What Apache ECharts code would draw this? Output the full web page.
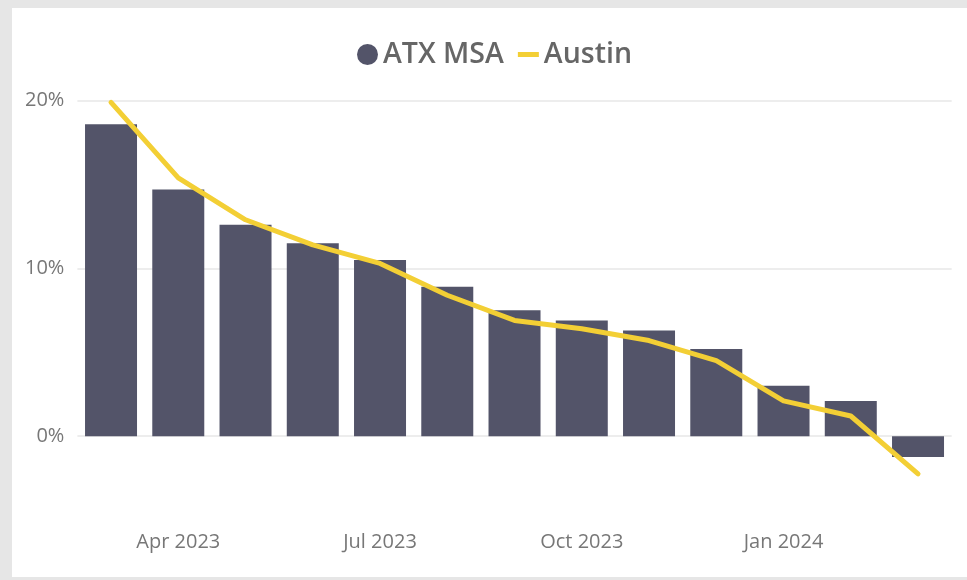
<!DOCTYPE html>
<html>
<head>
<meta charset="utf-8">
<script src="https://cdn.jsdelivr.net/npm/echarts@6/dist/echarts.min.js"></script>
<style>
  html, body { margin: 0; padding: 0; background: #e6e6e6; }
  #panel { position: absolute; left: 12px; top: 8px; width: 955px; height: 569px; background: #ffffff; }
  #chart { position: absolute; left: 0; top: 0; width: 967px; height: 580px; }
</style>
</head>
<body>
<div id="panel"></div>
<div id="chart"></div>
<script>
// Monthly year-over-year change, in percent
const months = ['Mar 2023', 'Apr 2023', 'May 2023', 'Jun 2023', 'Jul 2023', 'Aug 2023',
  'Sep 2023', 'Oct 2023', 'Nov 2023', 'Dec 2023', 'Jan 2024', 'Feb 2024', 'Mar 2024'];
const atxMsa = [18.6, 14.7, 12.6, 11.5, 10.5, 8.9, 7.5, 6.9, 6.3, 5.2, 3.0, 2.1, -1.25];
const austin = [19.9, 15.4, 12.9, 11.4, 10.3, 8.4, 6.9, 6.4, 5.7, 4.5, 2.1, 1.2, -2.25];
// Only whole 10% steps carry a label and a gridline
const yTickLabels = [0, 10, 20];

const FONT = '"Open Sans", "Noto Sans", sans-serif';
const chart = echarts.init(document.getElementById('chart'), null, { renderer: 'canvas' });

chart.setOption({
  backgroundColor: 'transparent',
  animation: false,
  legend: {
    top: 35,
    left: 352,
    itemWidth: 21,
    itemHeight: 22,
    itemGap: 14,
    textStyle: { fontFamily: FONT, fontSize: 28.5, fontWeight: 600, color: '#666666' },
    data: [
      { name: 'ATX MSA', icon: 'circle' },
      { name: 'Austin', icon: 'path://M0,0H21V5H0Z' }
    ]
  },
  grid: { left: 77.4, width: 874.25, top: 100.7, height: 419.3, containLabel: false },
  xAxis: {
    type: 'category',
    data: months,
    axisLine: { show: false },
    axisTick: { show: false },
    axisLabel: {
      interval: (idx) => idx % 3 === 1,
      margin: 12,
      fontFamily: FONT,
      fontSize: 20,
      color: '#777777'
    }
  },
  yAxis: {
    type: 'value',
    min: -5,
    max: 20,
    interval: 5,
    axisLine: { show: false },
    axisTick: { show: false },
    axisLabel: {
      margin: 13,
      fontFamily: FONT,
      fontSize: 20,
      color: '#777777',
      formatter: (v) => (yTickLabels.indexOf(v) >= 0 ? v + '%' : '')
    },
    splitLine: {
      lineStyle: {
        color: ['transparent', '#ededed'],
        width: 2
      }
    }
  },
  series: [
    {
      name: 'ATX MSA',
      type: 'bar',
      data: atxMsa,
      barWidth: 52,
      itemStyle: { color: '#535469' },
      z: 2
    },
    {
      name: 'Austin',
      type: 'line',
      data: austin,
      showSymbol: false,
      symbol: 'none',
      itemStyle: { color: '#F3CF35' },
      lineStyle: { color: '#F3CF35', width: 5, cap: 'round', join: 'round' },
      z: 3
    }
  ]
});
</script>
</body>
</html>
